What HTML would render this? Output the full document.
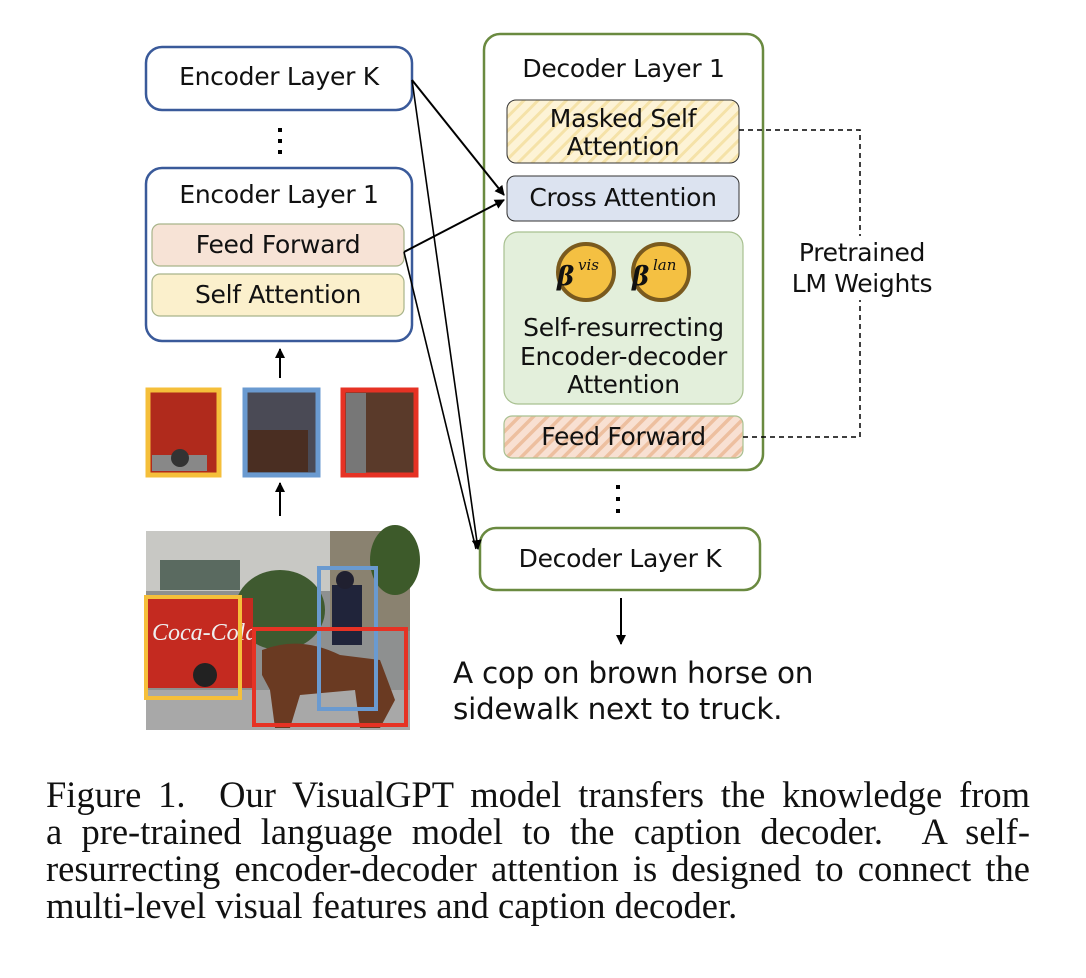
<!DOCTYPE html>
<html><head><meta charset="utf-8"><style>
body{margin:0;background:#fff;width:1086px;height:978px;overflow:hidden;position:relative;font-family:"DejaVu Sans","Liberation Sans",sans-serif;}
.t{position:absolute;text-align:center;color:#111;font-size:25px;letter-spacing:-0.3px;}
.cap{position:absolute;left:46px;width:984px;font-family:"Liberation Serif",serif;font-size:36.5px;line-height:37px;color:#111;top:776px;}
.cap div{text-align:justify;text-align-last:justify;white-space:nowrap;}
.cap div.l{text-align-last:left;}
</style></head><body>
<svg width="1086" height="978" style="position:absolute;left:0;top:0">
<defs>
<pattern id="hy" width="10" height="10" patternUnits="userSpaceOnUse" patternTransform="rotate(45)"><rect width="10" height="10" fill="#fdf3d6"/><rect width="3" height="10" fill="#f5e2a8"/></pattern>
<pattern id="hp" width="10" height="10" patternUnits="userSpaceOnUse" patternTransform="rotate(45)"><rect width="10" height="10" fill="#f8e0d2"/><rect width="3.5" height="10" fill="#edbf9f"/></pattern>
<marker id="a" markerWidth="10" markerHeight="10" refX="9" refY="5" orient="auto" markerUnits="userSpaceOnUse"><path d="M0,0 L10,5 L0,10 z" fill="#000"/></marker>
</defs>
<rect x="146" y="47" width="266" height="63" rx="16" fill="#fff" stroke="#3a5a9a" stroke-width="2.5"/>
<rect x="146" y="168" width="266" height="173" rx="16" fill="#fff" stroke="#3a5a9a" stroke-width="2.5"/>
<rect x="152" y="224" width="252" height="42" rx="8" fill="#f7e3d6" stroke="#a8b48a" stroke-width="1.2"/>
<rect x="152" y="274" width="252" height="42" rx="8" fill="#fbf0cc" stroke="#a8b48a" stroke-width="1.2"/>
<rect x="278" y="128" width="4" height="4" fill="#000"/><rect x="278" y="139" width="4" height="4" fill="#000"/><rect x="278" y="150" width="4" height="4" fill="#000"/>
<line x1="280" y1="378" x2="280" y2="349" stroke="#000" stroke-width="2" marker-end="url(#a)"/>
<line x1="280" y1="516" x2="280" y2="483" stroke="#000" stroke-width="2" marker-end="url(#a)"/>
<rect x="148" y="390" width="71" height="85" fill="#b02a1c" stroke="#f5bf3a" stroke-width="5"/>
<rect x="152" y="455" width="55" height="16" fill="#888"/>
<circle cx="180" cy="458" r="9" fill="#333"/>
<rect x="245" y="390" width="73" height="85" fill="#4a4a55" stroke="#6a9ad0" stroke-width="5"/>
<rect x="248" y="430" width="60" height="42" fill="#4a2e22"/>
<rect x="343" y="390" width="73" height="85" fill="#5a3a2a" stroke="#e63224" stroke-width="5"/>
<rect x="346" y="393" width="20" height="80" fill="#777"/>
<rect x="146" y="531" width="264" height="199" fill="#8e9090"/>
<rect x="146" y="531" width="190" height="60" fill="#c8c8c4"/>
<rect x="160" y="560" width="80" height="30" fill="#5a6a60"/>
<rect x="330" y="531" width="80" height="100" fill="#8a8270"/>
<ellipse cx="280" cy="610" rx="45" ry="40" fill="#3f5a30"/>
<ellipse cx="395" cy="560" rx="25" ry="35" fill="#3d5a2a"/>
<rect x="146" y="690" width="264" height="40" fill="#a8a8a8"/>
<rect x="148" y="598" width="105" height="90" fill="#c42a20"/>
<text x="152" y="640" font-family="Liberation Serif" font-style="italic" font-size="24" fill="#eee">Coca-Cola</text>
<circle cx="205" cy="675" r="12" fill="#222"/>
<path d="M262,650 Q300,635 340,655 L380,660 L395,700 L380,728 L360,728 L355,690 L300,695 L290,728 L275,728 L270,690 L262,675z" fill="#6a3a22"/>
<rect x="332" y="585" width="30" height="60" fill="#20243a"/>
<circle cx="345" cy="580" r="9" fill="#202030"/>
<rect x="146" y="597" width="94" height="101" fill="none" stroke="#f5bf3a" stroke-width="4"/>
<rect x="319" y="568" width="57" height="141" fill="none" stroke="#6a9ad0" stroke-width="4"/>
<rect x="254" y="629" width="152" height="96" fill="none" stroke="#e63224" stroke-width="4"/>
<rect x="484" y="34" width="279" height="436" rx="16" fill="#fff" stroke="#6a8a40" stroke-width="2.5"/>
<rect x="507" y="100" width="232" height="63" rx="9" fill="url(#hy)" stroke="#333" stroke-width="1"/>
<rect x="507" y="176" width="232" height="45" rx="8" fill="#dce3f0" stroke="#333" stroke-width="1"/>
<rect x="504" y="232" width="239" height="172" rx="14" fill="#e3efdb" stroke="#a8c090" stroke-width="1.2"/>
<rect x="504" y="416" width="239" height="42" rx="8" fill="url(#hp)" stroke="#a8c090" stroke-width="1.2"/>
<circle cx="586" cy="272" r="28" fill="#f4c042" stroke="#7a5a1e" stroke-width="4"/>
<circle cx="661" cy="272" r="28" fill="#f4c042" stroke="#7a5a1e" stroke-width="4"/>
<text x="557" y="285" font-family="DejaVu Serif" font-weight="bold" font-style="italic" font-size="26" fill="#111">β</text>
<text x="578" y="270" font-family="DejaVu Serif" font-style="italic" font-size="15" fill="#111">vis</text>
<text x="632" y="285" font-family="DejaVu Serif" font-weight="bold" font-style="italic" font-size="26" fill="#111">β</text>
<text x="653" y="270" font-family="DejaVu Serif" font-style="italic" font-size="15" fill="#111">lan</text>
<rect x="616" y="485" width="4" height="4" fill="#000"/><rect x="616" y="497" width="4" height="4" fill="#000"/><rect x="616" y="509" width="4" height="4" fill="#000"/>
<rect x="480" y="528" width="280" height="62" rx="16" fill="#fff" stroke="#6a8a40" stroke-width="2.5"/>
<line x1="621" y1="598" x2="621" y2="644" stroke="#000" stroke-width="2" marker-end="url(#a)"/>
<path d="M739,130 H860 V437 H743" fill="none" stroke="#000" stroke-width="1.5" stroke-dasharray="5,4"/>
<rect x="790" y="236" width="150" height="64" fill="#fff"/>
<line x1="412" y1="80" x2="504" y2="195" stroke="#000" stroke-width="2" marker-end="url(#a)"/>
<line x1="404" y1="252" x2="504" y2="200" stroke="#000" stroke-width="2" marker-end="url(#a)"/>
<line x1="412" y1="80" x2="478" y2="549" stroke="#000" stroke-width="1.6" marker-end="url(#a)"/>
<line x1="404" y1="252" x2="476" y2="549" stroke="#000" stroke-width="1.6"/>
</svg>
<div class="t" style="left:146px;top:62px;width:266px;">Encoder Layer K</div>
<div class="t" style="left:146px;top:180px;width:266px;">Encoder Layer 1</div>
<div class="t" style="left:152px;top:230px;width:252px;">Feed Forward</div>
<div class="t" style="left:152px;top:280px;width:252px;">Self Attention</div>
<div class="t" style="left:484px;top:54px;width:279px;">Decoder Layer 1</div>
<div class="t" style="left:507px;top:105px;width:232px;line-height:28px;">Masked Self<br>Attention</div>
<div class="t" style="left:507px;top:183px;width:232px;">Cross Attention</div>
<div class="t" style="left:504px;top:314px;width:239px;line-height:28.5px;">Self-resurrecting<br>Encoder-decoder<br>Attention</div>
<div class="t" style="left:504px;top:422px;width:239px;">Feed Forward</div>
<div class="t" style="left:480px;top:544px;width:280px;">Decoder Layer K</div>
<div class="t" style="left:776px;top:237px;width:172px;line-height:31px;">Pretrained<br>LM Weights</div>
<div class="t" style="left:453px;top:655px;text-align:left;font-size:29.5px;line-height:36px;">A cop on brown horse on<br>sidewalk next to truck.</div>
<div class="cap">
<div>Figure 1. &nbsp;Our VisualGPT model transfers the knowledge from</div>
<div>a pre-trained language model to the caption decoder. &nbsp;A self-</div>
<div>resurrecting encoder-decoder attention is designed to connect the</div>
<div class="l">multi-level visual features and caption decoder.</div>
</div>
</body></html>
